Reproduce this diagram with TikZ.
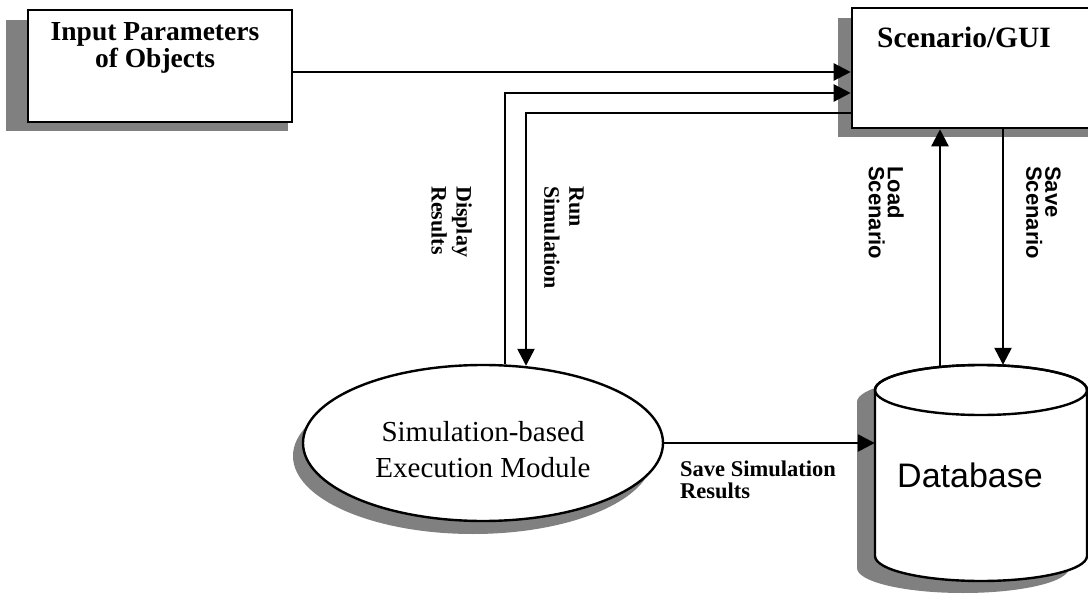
\documentclass[tikz,border=0pt]{standalone}
\usepackage{fontspec}
\setmainfont{Liberation Serif}
\newfontfamily\arialf{Liberation Sans}
\usetikzlibrary{arrows.meta,calc,shapes.geometric}
\begin{document}
\begin{tikzpicture}[x=1pt,y=1pt,
  lw/.style={line width=2.4pt},
  arr/.style={line width=2.4pt,-{Triangle[length=17pt,width=17pt]}},
  shadowfill/.style={fill=black!50},
  boxstyle/.style={draw,line width=2.6pt,fill=white,inner sep=0pt},
  rotlabel/.style={rotate=-90,anchor=north west,align=left,inner sep=0pt}
]
\useasboundingbox (0,0) rectangle (1088,-602);
\clip (0,0) rectangle (1088,-602);
% shadows
\fill[shadowfill] (6,-20) rectangle (288,-131);
\fill[shadowfill] (838,-18) rectangle (1100,-137);
\fill[shadowfill] (473,-456) ellipse (180 and 78);
\fill[shadowfill] (857,-402) -- (857,-568)
  arc[start angle=180,end angle=360,x radius=106,y radius=25] -- (1069,-402)
  arc[start angle=0,end angle=180,x radius=106,y radius=25] -- cycle;
% boxes
\node[boxstyle,minimum width=264pt,minimum height=112pt] (in) at (160,-66) {};
\node[boxstyle,minimum width=260pt,minimum height=120pt] (gui) at (982,-68) {};
\node[font=\fontsize{27.5}{25}\selectfont\bfseries,align=center] (inl) at (155,-48) {Input Parameters\\of Objects};
\node[font=\fontsize{29.5}{30}\selectfont\bfseries,anchor=base west,inner sep=0pt] (guil) at (877,-48) {Scenario/GUI};
% ellipse
\node[draw,ellipse,line width=2.4pt,fill=white,minimum width=360pt,minimum height=156pt,inner sep=0pt] (sim) at (483,-443) {};
\node[font=\fontsize{29}{36}\selectfont,align=center] (siml) at (483,-450) {Simulation-based\\Execution Module};
% database cylinder
\filldraw[fill=white,lw] (875,-390) -- (875,-556)
  arc[start angle=180,end angle=360,x radius=106,y radius=25] -- (1087,-390)
  arc[start angle=0,end angle=180,x radius=106,y radius=25] -- cycle;
\draw[lw] (981,-390) ellipse (106 and 25);
\node[minimum width=212pt,minimum height=216pt,inner sep=0pt] (db) at (981,-473) {};
\node[font=\arialf\fontsize{34}{40}\selectfont,anchor=base,inner sep=0pt] (dbl) at (970,-487) {Database};
% connectors
\draw[arr] ([yshift=-6pt]in.east) -- ([yshift=-6pt]in.east -| gui.west);
\draw[arr] ([xshift=22pt]sim.north) |- ([yshift=-25pt]gui.west);
\draw[arr] ([yshift=-45pt]gui.west) -| ([xshift=43pt,yshift=-2pt]sim.north);
\draw[arr] ([xshift=-41pt,yshift=-2pt]db.north) -- ([xshift=-41pt]db.north |- gui.south);
\draw[arr] ([xshift=22pt]db.north |- gui.south) -- ([xshift=22pt]db.north);
\draw[arr] (sim.east) -- (sim.east -| db.west);
% labels
\node[rotlabel,font=\fontsize{22}{25}\selectfont\bfseries] (dr) at (472,-186) {Display\\Results};
\node[rotlabel,font=\fontsize{22}{25}\selectfont\bfseries] (rs) at (584,-186) {Run\\Simulation};
\node[rotlabel,font=\arialf\bfseries\fontsize{22}{19}\selectfont] (ls) at (904,-166) {Load\\Scenario};
\node[rotlabel,font=\arialf\bfseries\fontsize{22}{19}\selectfont] (ss) at (1061,-166) {Save\\Scenario};
\node[font=\fontsize{22.5}{22}\selectfont\bfseries,align=left,anchor=north west,inner sep=0pt] (ssr) at (680,-461) {Save Simulation\\Results};
\end{tikzpicture}
\end{document}
